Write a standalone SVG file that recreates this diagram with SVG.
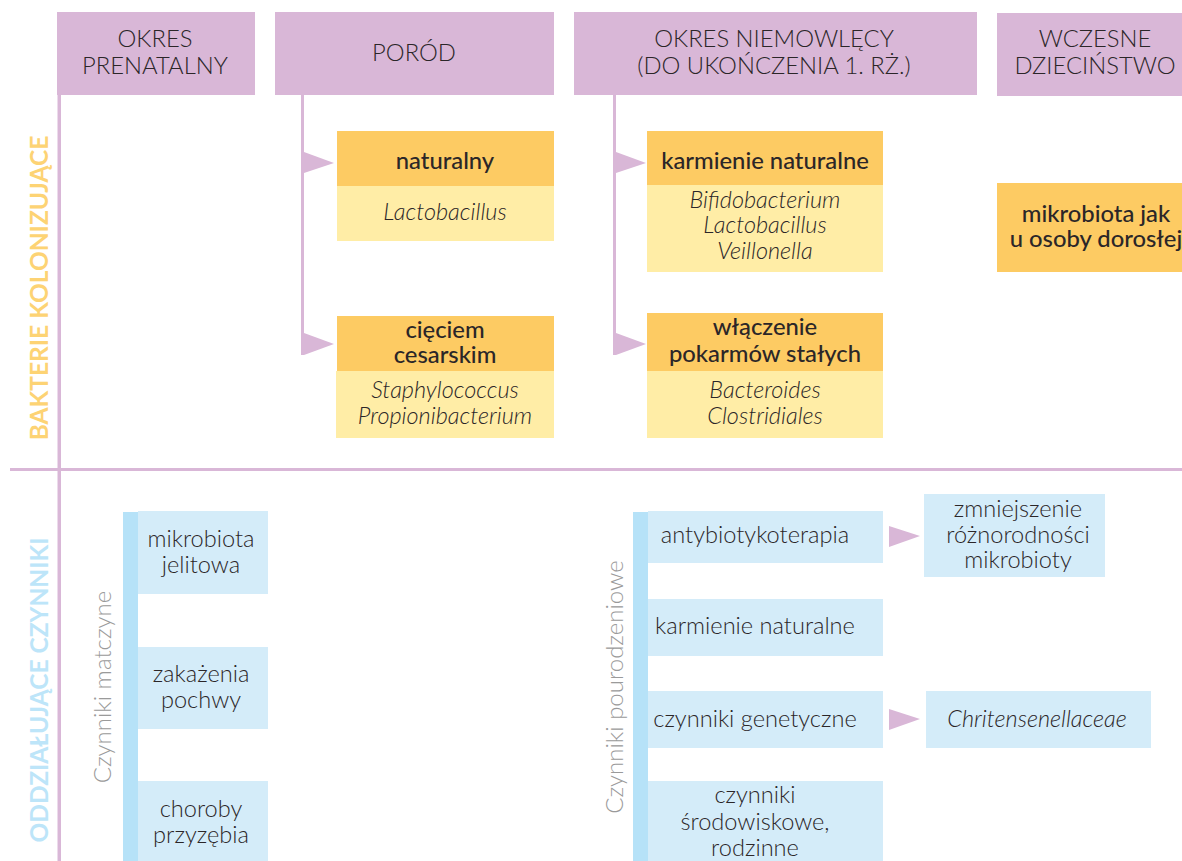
<svg xmlns="http://www.w3.org/2000/svg" width="1182" height="861" viewBox="0 0 1182 861">
<style>
text{font-family:Lato,"Open Sans","Liberation Sans",sans-serif;fill:#2b2628;text-anchor:middle}
.hdr{fill:#d9b7d7}
.hd{font-size:23.8px;font-weight:300}
.dk{fill:#fdcb63}
.lt{fill:#ffeda6}
.bl{fill:#d4ecf9}
.bar{fill:#b6e2f8}
.tt{font-size:23.8px;font-weight:500}
.it{font-size:23.5px;font-weight:300;font-style:italic}
.bd{font-size:23.6px;font-weight:300}
.ln{fill:#d9b7d7}
.vl{font-size:24px;font-weight:300;fill:#9a9a9a}
.vb{font-size:24.5px;font-weight:700}
</style>
<rect width="1182" height="861" fill="#ffffff"/>

<g id="headers">
<g id="h-prenatal"><rect class="hdr" x="57" y="12" width="198" height="83"/>
<text class="hd" x="155" y="47">OKRES</text><text class="hd" x="155" y="74">PRENATALNY</text></g>
<g id="h-porod"><rect class="hdr" x="275" y="12" width="279" height="83"/>
<text class="hd" x="414" y="61">PORÓD</text></g>
<g id="h-niemowlecy"><rect class="hdr" x="574" y="12" width="403" height="83"/>
<text class="hd" x="774" y="47">OKRES NIEMOWLĘCY</text><text class="hd" x="774" y="74">(DO UKOŃCZENIA 1. RŻ.)</text></g>
<g id="h-dziecinstwo"><rect class="hdr" x="997" y="13" width="185" height="83"/>
<text class="hd" x="1095" y="47">WCZESNE</text><text class="hd" x="1095" y="74">DZIECIŃSTWO</text></g>
</g>

<g id="side-labels">
<text class="vb" style="fill:#fdd374" transform="translate(48,288) rotate(-90)">BAKTERIE KOLONIZUJĄCE</text>
<text class="vb" style="fill:#bde5f9" transform="translate(48,690) rotate(-90)">ODDZIAŁUJĄCE CZYNNIKI</text>
<text class="vl" transform="translate(111,687) rotate(-90)">Czynniki matczyne</text>
<text class="vl" transform="translate(623,687) rotate(-90)">Czynniki  pourodzeniowe</text>
</g>

<g id="connectors">
<rect class="ln" x="57.5" y="94" width="3.5" height="767"/>
<rect class="ln" x="10" y="468" width="1172" height="3"/>
<rect class="ln" x="301" y="94" width="3" height="261"/>
<rect class="ln" x="613" y="94" width="3" height="261"/>
<polygon class="ln" points="304,152 334,163 304,173"/>
<polygon class="ln" points="304,333 334,344 304,355"/>
<polygon class="ln" points="616,152 646,163 616,173"/>
<polygon class="ln" points="616,333 646,344 616,355"/>
<polygon class="ln" points="889,526 920,536 889,547"/>
<polygon class="ln" points="889,709 920,719 889,730"/>
<rect class="bar" x="123" y="512" width="15" height="349"/>
<rect class="bar" x="633" y="512" width="15" height="349"/>
</g>

<g id="n-naturalny">
<rect class="dk" x="337" y="131" width="217" height="55"/>
<rect class="lt" x="337" y="186" width="217" height="55"/>
<text class="tt" x="445" y="169">naturalny</text>
<text class="it" x="445" y="220">Lactobacillus</text>
</g>
<g id="n-cesarskie">
<rect class="dk" x="337" y="316" width="217" height="55"/>
<rect class="lt" x="336" y="371" width="218" height="67"/>
<text class="tt" x="445" y="338">cięciem</text>
<text class="tt" x="445" y="363">cesarskim</text>
<text class="it" x="445" y="398">Staphylococcus</text>
<text class="it" x="445" y="424">Propionibacterium</text>
</g>
<g id="n-karmienie">
<rect class="dk" x="647" y="131" width="236" height="54"/>
<rect class="lt" x="647" y="185" width="236" height="87"/>
<text class="tt" x="765" y="169">karmienie naturalne</text>
<text class="it" x="765" y="208">Bifidobacterium</text>
<text class="it" x="765" y="233">Lactobacillus</text>
<text class="it" x="765" y="259">Veillonella</text>
</g>
<g id="n-stale">
<rect class="dk" x="647" y="313" width="236" height="58"/>
<rect class="lt" x="647" y="371" width="236" height="67"/>
<text class="tt" x="765" y="335">włączenie</text>
<text class="tt" x="765" y="362">pokarmów stałych</text>
<text class="it" x="765" y="398">Bacteroides</text>
<text class="it" x="765" y="424">Clostridiales</text>
</g>
<g id="n-dorosly">
<rect class="dk" x="997" y="183" width="185" height="89"/>
<text class="tt" x="1096" y="222">mikrobiota jak</text>
<text class="tt" x="1096" y="247">u osoby dorosłej</text>
</g>

<g id="n-jelitowa"><rect class="bl" x="138" y="511" width="130" height="83"/>
<text class="bd" x="201" y="547">mikrobiota</text><text class="bd" x="201" y="573">jelitowa</text></g>
<g id="n-pochwy"><rect class="bl" x="138" y="647" width="130" height="82"/>
<text class="bd" x="201" y="682">zakażenia</text><text class="bd" x="201" y="708">pochwy</text></g>
<g id="n-przyzebia"><rect class="bl" x="138" y="781" width="130" height="80"/>
<text class="bd" x="201" y="817">choroby</text><text class="bd" x="201" y="843">przyzębia</text></g>

<g id="n-antybiotyki"><rect class="bl" x="648" y="511" width="235" height="52"/>
<text class="bd" x="755" y="543">antybiotykoterapia</text></g>
<g id="n-karmienie2"><rect class="bl" x="648" y="599" width="235" height="57"/>
<text class="bd" x="755" y="634">karmienie naturalne</text></g>
<g id="n-genetyczne"><rect class="bl" x="648" y="691" width="235" height="57"/>
<text class="bd" x="755" y="727">czynniki genetyczne</text></g>
<g id="n-srodowiskowe"><rect class="bl" x="648" y="781" width="235" height="80"/>
<text class="bd" x="755" y="803">czynniki</text><text class="bd" x="755" y="830">środowiskowe,</text><text class="bd" x="755" y="856">rodzinne</text></g>

<g id="n-roznorodnosc"><rect class="bl" x="924" y="494" width="181" height="83"/>
<text class="bd" x="1018" y="517">zmniejszenie</text><text class="bd" x="1018" y="543">różnorodności</text><text class="bd" x="1018" y="568">mikrobioty</text></g>
<g id="n-chritensen"><rect class="bl" x="926" y="691" width="225" height="57"/>
<text class="it" x="1037" y="727">Chritensenellaceae</text></g>
</svg>
